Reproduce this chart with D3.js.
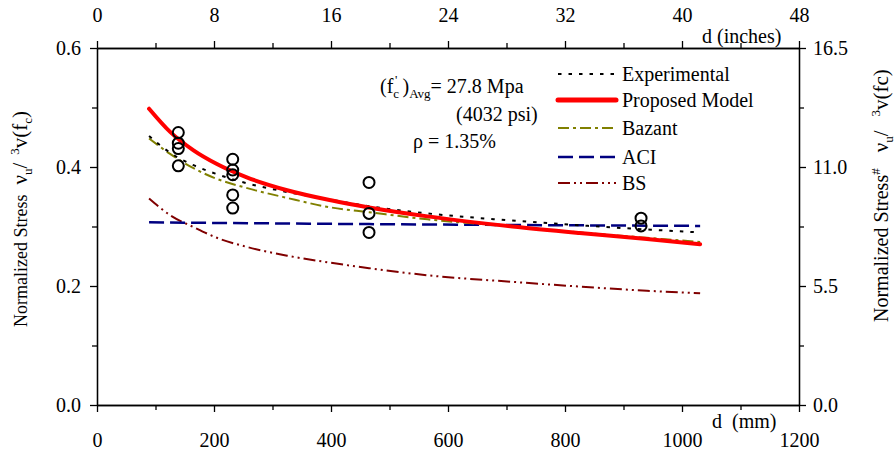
<!DOCTYPE html>
<html>
<head>
<meta charset="utf-8">
<script src="https://cdn.jsdelivr.net/npm/d3@7"></script>
<style>
  body { margin: 0; background: #fff; }
  svg text { font-family: "Liberation Serif", "Times New Roman", serif; fill: #000; white-space: pre; }
</style>
</head>
<body>
<div id="chart"></div>
<script>
// shared depth grid for the model curves (mm)
const curveD = [89, 125, 165, 205, 255, 325, 400, 465, 565, 710, 825, 940, 1031];

const experimentalV = [0.452, 0.424, 0.403, 0.388, 0.373, 0.358, 0.345, 0.334, 0.322, 0.310, 0.302, 0.295, 0.290];
const proposedV     = [0.498, 0.459, 0.428, 0.405, 0.383, 0.361, 0.344, 0.332, 0.317, 0.300, 0.289, 0.279, 0.270];
const bazantV       = [0.448, 0.422, 0.398, 0.380, 0.365, 0.348, 0.332, 0.324, 0.312, 0.300, 0.290, 0.281, 0.274];
const bsV           = [0.347, 0.319, 0.299, 0.281, 0.266, 0.251, 0.239, 0.230, 0.218, 0.207, 0.199, 0.192, 0.188];

const aciD = [89, 465, 1031];
const aciV = [0.307, 0.304, 0.301];

// test results (open circles)
const testD = [139, 139, 139, 139, 232, 232, 232, 232, 232, 465, 465, 465, 930, 930];
const testV = [0.458, 0.440, 0.431, 0.402, 0.413, 0.395, 0.387, 0.353, 0.331, 0.374, 0.322, 0.290, 0.314, 0.301];

const bottomTicks = [0, 200, 400, 600, 800, 1000, 1200];
const topTicks = [0, 8, 16, 24, 32, 40, 48];
const leftTicks = [0, 0.2, 0.4, 0.6];
const rightTicks = [0, 5.5, 11.0, 16.5];

const legendNames = ["Experimental", "Proposed Model", "Bazant", "ACI", "BS"];

const W = 896, H = 455;
const svg = d3.select("#chart").append("svg").attr("width", W).attr("height", H);

const x = d3.scaleLinear().domain([0, 1200]).range([97, 799]);
const xIn = d3.scaleLinear().domain([0, 48]).range([97, 799]);
const y = d3.scaleLinear().domain([0, 0.6]).range([405, 48]);
const yR = d3.scaleLinear().domain([0, 16.5]).range([405, 48]);

function styleAxis(g) {
    g.selectAll("path, line").attr("stroke", "#000").attr("stroke-width", 1.3);
    g.selectAll("text").style("font-size", "20px").attr("font-family", null);
}

// minor ticks first
svg.append("g").attr("transform", "translate(0,405)")
    .call(d3.axisBottom(x).tickValues([100, 300, 500, 700, 900, 1100]).tickFormat("").tickSize(5).tickSizeOuter(0))
    .call(styleAxis);
svg.append("g").attr("transform", "translate(0,48)")
    .call(d3.axisTop(xIn).tickValues([4, 12, 20, 28, 36, 44]).tickFormat("").tickSize(5).tickSizeOuter(0))
    .call(styleAxis);
svg.append("g").attr("transform", "translate(97,0)")
    .call(d3.axisLeft(y).tickValues([0.1, 0.3, 0.5]).tickFormat("").tickSize(5).tickSizeOuter(0))
    .call(styleAxis);
svg.append("g").attr("transform", "translate(799,0)")
    .call(d3.axisRight(yR).tickValues([2.75, 8.25, 13.75]).tickFormat("").tickSize(5).tickSizeOuter(0))
    .call(styleAxis);

// major ticks
svg.append("g").attr("transform", "translate(0,405)")
    .call(d3.axisBottom(x).tickValues(bottomTicks).tickFormat(d3.format("d")).tickSize(7).tickPadding(21).tickSizeOuter(0))
    .call(styleAxis);
svg.append("g").attr("transform", "translate(0,48)")
    .call(d3.axisTop(xIn).tickValues(topTicks).tickFormat(d3.format("d")).tickSize(7).tickPadding(19).tickSizeOuter(0))
    .call(styleAxis);
svg.append("g").attr("transform", "translate(97,0)")
    .call(d3.axisLeft(y).tickValues(leftTicks).tickFormat(d3.format(".1f")).tickSize(7).tickPadding(9).tickSizeOuter(0))
    .call(styleAxis);
svg.append("g").attr("transform", "translate(799,0)")
    .call(d3.axisRight(yR).tickValues(rightTicks).tickFormat(d3.format(".1f")).tickSize(7).tickPadding(7).tickSizeOuter(0))
    .call(styleAxis);

// rich text helper: parts = [text, shift, size, italic, dx]
function rich(sel, parts, base) {
    let cur = 0;
    parts.forEach(p => {
        const shift = p[1] || 0;
        const ts = sel.append("tspan").text(p[0])
            .attr("dy", shift - cur)
            .style("font-size", (p[2] || base) + "px");
        if (p[3]) ts.style("font-style", "italic");
        if (p[4]) ts.attr("dx", p[4]);
        cur = shift;
    });
}

// axis titles
svg.append("text").attr("x", 712).attr("y", 428).style("font-size", "20px").text("d  (mm)");
svg.append("text").attr("x", 702).attr("y", 43).style("font-size", "20px").text("d (inches)");

const leftT = svg.append("text").attr("transform", "translate(27,327) rotate(-90)");
rich(leftT, [["Normalized Stress", 0, 18], ["ν", 0, 21, false, 10], ["u", 5, 13], ["/", 0, 21], ["3", -8, 13, false, 8],
             ["v(f", 0, 21], ["c", 5, 13], [")", 0, 21]], 18);

const rightT = svg.append("text").attr("transform", "translate(888,322) rotate(-90)");
rich(rightT, [["Normalized Stress", 0, 20], ["#", -8, 13], ["ν", 0, 21, false, 16], ["u", 5, 13], ["/", 0, 21],
              ["3", -8, 13, false, 14], ["v(fc)", 0, 21]], 20);

// annotation
const a1 = svg.append("text").attr("x", 380).attr("y", 93);
rich(a1, [["(f", 0, 20], ["c", 5, 13], ["'", -9, 13, false, -4], [" )", 0, 20], ["Avg", 5, 13], ["= 27.8 Mpa", 0, 20]], 20);
svg.append("text").attr("x", 456).attr("y", 121).style("font-size", "20px").text("(4032 psi)");
svg.append("text").attr("x", 413).attr("y", 148).style("font-size", "20px").text("ρ = 1.35%");

// series
const series = [
    { name: legendNames[0], d: curveD, v: experimentalV, color: "#000000", width: 2, dash: "3.5,7" },
    { name: legendNames[1], d: curveD, v: proposedV, color: "#ff0000", width: 4, dash: null },
    { name: legendNames[2], d: curveD, v: bazantV, color: "#808000", width: 2, dash: "11,4,3,4" },
    { name: legendNames[3], d: aciD, v: aciV, color: "#000080", width: 2.5, dash: "15,6" },
    { name: legendNames[4], d: curveD, v: bsV, color: "#800000", width: 2, dash: "12,4,2,4,2,4" }
];

const line = d3.line().x(p => x(p[0])).y(p => y(p[1])).curve(d3.curveMonotoneX);

const drawOrder = [4, 3, 2, 0, 1];
drawOrder.forEach(i => {
    const s = series[i];
    svg.append("path")
        .datum(s.d.map((d, j) => [d, s.v[j]]))
        .attr("d", line)
        .attr("fill", "none")
        .attr("stroke", s.color)
        .attr("stroke-width", s.width)
        .attr("stroke-dasharray", s.dash)
        .attr("stroke-linecap", i === 1 ? "round" : "butt");
});

svg.append("g").selectAll("circle")
    .data(testD.map((d, i) => [d, testV[i]]))
    .join("circle")
    .attr("cx", p => x(p[0]))
    .attr("cy", p => y(p[1]))
    .attr("r", 5.5)
    .attr("fill", "none")
    .attr("stroke", "#000")
    .attr("stroke-width", 2);

// legend
const legendY = [74, 100, 128, 157, 183];
const lg = svg.append("g");
series.forEach((s, i) => {
    lg.append("line")
        .attr("x1", 558).attr("x2", 616)
        .attr("y1", legendY[i]).attr("y2", legendY[i])
        .attr("stroke", s.color)
        .attr("stroke-width", i === 1 ? 5 : s.width)
        .attr("stroke-dasharray", s.dash)
        .attr("stroke-linecap", i === 1 ? "round" : "butt");
    lg.append("text")
        .attr("x", 622).attr("y", legendY[i]).attr("dy", "0.35em")
        .style("font-size", "20px")
        .text(s.name);
});
</script>
</body>
</html>
